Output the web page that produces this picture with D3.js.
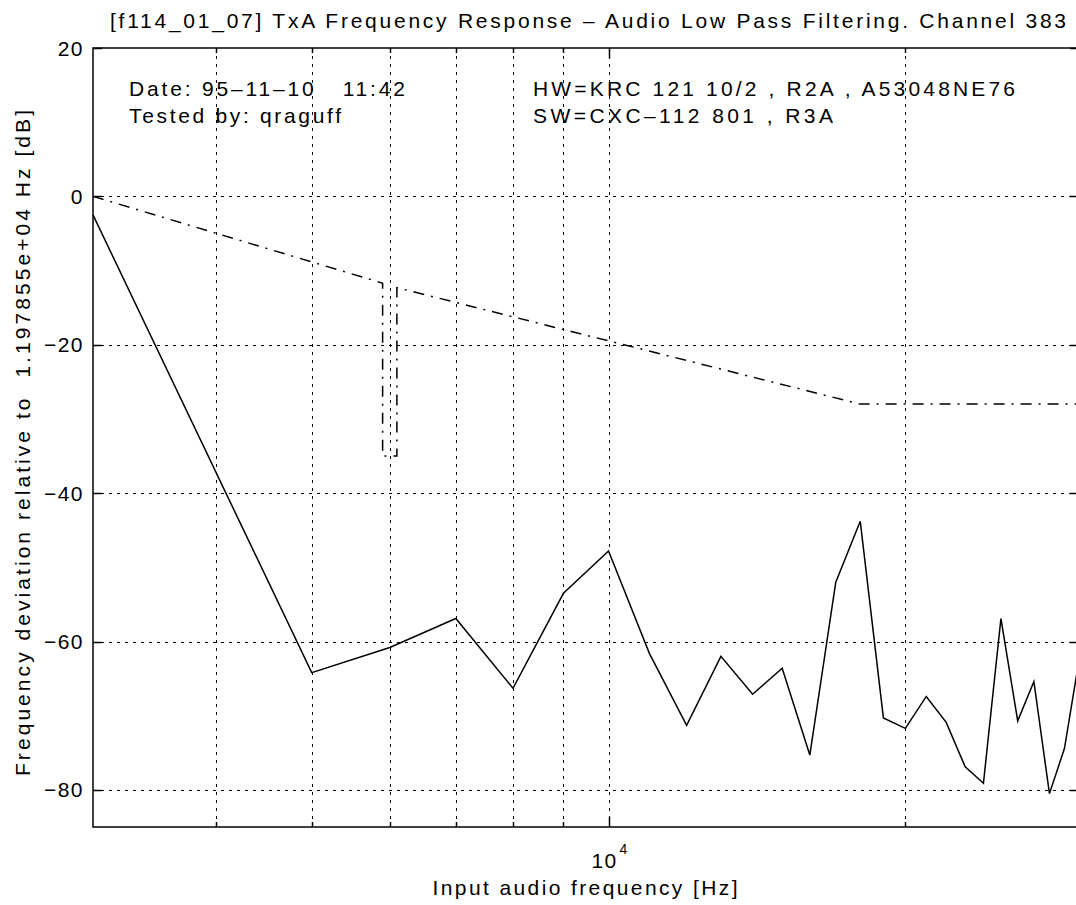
<!DOCTYPE html>
<html>
<head>
<meta charset="utf-8">
<script src="https://cdn.jsdelivr.net/npm/d3@7"></script>
<style>
body { margin: 0; background: #fff; }
text { font-family: "Liberation Sans", Arial, Helvetica, sans-serif; fill: #000; white-space: pre; }
</style>
</head>
<body>
<div id="chart"></div>
<script>
// measured response, solid line
var freqHz = [3000, 5000, 6000, 7000, 8000, 9000, 10000, 11000, 12000, 13000, 14000,
              15000, 16000, 17000, 18000, 19000, 20000, 21000, 22000, 23000, 24000,
              25000, 26000, 27000, 28000, 29000, 30000];
var respDb = [-2.5, -64.2, -60.8, -56.9, -66.3, -53.5, -47.8, -61.6, -71.3, -62.0, -67.1,
              -63.6, -75.3, -52.0, -43.8, -70.3, -71.7, -67.4, -70.9, -76.9, -79.1,
              -56.9, -70.7, -65.4, -80.5, -74.4, -62.5];

// limit mask, dash-dot line
var limitHz = [3000, 5900, 5900, 6100, 6100, 18000, 30000];
var limitDb = [0, -11.7, -35, -35, -12.3, -28, -28];

// axis ticks and grid
var yTickValues = [20, 0, -20, -40, -60, -80];
var xGridHz = [4000, 5000, 6000, 7000, 8000, 9000, 10000, 20000];
var xMajorHz = [10000];

var titleText = "[f114_01_07] TxA Frequency Response \u2013 Audio Low Pass Filtering. Channel 383";
var xLabel = "Input audio frequency [Hz]";
var yLabel = "Frequency deviation relative to  1.197855e+04 Hz [dB]";
var infoLeft = ["Date: 95\u201311\u201310   11:42", "Tested by: qraguff"];
var infoRight = ["HW=KRC 121 10/2 , R2A , A53048NE76", "SW=CXC\u2013112 801 , R3A"];

var W = 1076, H = 905;
var margin = {top: 48, left: 93},
    width = 986,
    height = 779,
    fontSize = "21px";

var svg = d3.select("#chart").append("svg")
    .attr("width", W)
    .attr("height", H)
    .style("background", "#fff");

var x = d3.scaleLog()
    .domain([3000, 30000])
    .range([margin.left, margin.left + width]);

var y = d3.scaleLinear()
    .domain([-85, 20])
    .range([margin.top + height, margin.top]);

var x0 = x.range()[0], x1 = x.range()[1],
    yTop = y.range()[1], yBot = y.range()[0];

// grid lines
var grid = svg.append("g")
    .attr("stroke", "#000")
    .attr("stroke-width", 1)
    .attr("stroke-dasharray", "3,5");

grid.selectAll(".vgrid")
    .data(xGridHz)
    .enter().append("line")
    .attr("x1", function(d) { return Math.round(x(d)) + 0.5; })
    .attr("x2", function(d) { return Math.round(x(d)) + 0.5; })
    .attr("y1", yTop)
    .attr("y2", yBot);

grid.selectAll(".hgrid")
    .data(yTickValues.filter(function(d) { return d < 20; }))
    .enter().append("line")
    .attr("x1", x0)
    .attr("x2", x1)
    .attr("y1", function(d) { return Math.round(y(d)) + 0.5; })
    .attr("y2", function(d) { return Math.round(y(d)) + 0.5; });

// data lines
var line = d3.line()
    .x(function(d) { return x(d[0]); })
    .y(function(d) { return y(d[1]); });

svg.append("path")
    .datum(d3.zip(limitHz, limitDb))
    .attr("fill", "none")
    .attr("stroke", "#000")
    .attr("stroke-width", 1.5)
    .attr("stroke-dasharray", "11,7,2,7")
    .attr("d", line);

svg.append("path")
    .datum(d3.zip(freqHz, respDb))
    .attr("fill", "none")
    .attr("stroke", "#000")
    .attr("stroke-width", 1.5)
    .attr("d", line);

// axes box
var box = svg.append("g")
    .attr("stroke", "#000")
    .attr("stroke-width", 1.5)
    .attr("fill", "none");

box.append("path")
    .attr("d", "M" + x1 + "," + yTop + "H" + x0 + "V" + yBot + "H" + x1 + "V" + yTop);

// y ticks, left and right
yTickValues.forEach(function(d) {
    var yy = Math.round(y(d)) + 0.5;
    box.append("line").attr("x1", x0).attr("x2", x0 + 9).attr("y1", yy).attr("y2", yy);
    box.append("line").attr("x1", x1).attr("x2", x1 - 9).attr("y1", yy).attr("y2", yy);
});

// x ticks, bottom and top
xGridHz.forEach(function(d) {
    var xx = Math.round(x(d)) + 0.5;
    var len = xMajorHz.indexOf(d) >= 0 ? 10 : 5;
    box.append("line").attr("x1", xx).attr("x2", xx).attr("y1", yBot).attr("y2", yBot - len);
    box.append("line").attr("x1", xx).attr("x2", xx).attr("y1", yTop).attr("y2", yTop + len);
});

// tick labels
svg.selectAll(".ylab")
    .data(yTickValues)
    .enter().append("text")
    .attr("x", 84)
    .attr("y", function(d) { return y(d) + 7.5; })
    .attr("text-anchor", "end")
    .style("font-size", fontSize)
    .style("letter-spacing", "1.5px")
    .text(function(d) { return d < 0 ? "\u2212" + (-d) : d; });

xMajorHz.forEach(function(d) {
    svg.append("text")
        .attr("x", x(d) - 4)
        .attr("y", 868)
        .attr("text-anchor", "middle")
        .style("font-size", fontSize)
        .style("letter-spacing", "1.5px")
        .text("10");
    svg.append("text")
        .attr("x", x(d) + 11)
        .attr("y", 854)
        .style("font-size", "14px")
        .text(Math.round(Math.log10(d)));
});

// title and axis labels
svg.append("text")
    .attr("x", 588)
    .attr("y", 28)
    .attr("text-anchor", "middle")
    .attr("textLength", 956)
    .attr("lengthAdjust", "spacing")
    .style("font-size", fontSize)
    .text(titleText);

svg.append("text")
    .attr("x", 585)
    .attr("y", 895)
    .attr("text-anchor", "middle")
    .attr("textLength", 305)
    .attr("lengthAdjust", "spacing")
    .style("font-size", fontSize)
    .text(xLabel);

svg.append("text")
    .attr("transform", "translate(30," + 443 + ") rotate(-90)")
    .attr("text-anchor", "middle")
    .attr("textLength", 666)
    .attr("lengthAdjust", "spacing")
    .style("font-size", fontSize)
    .text(yLabel);

// info text inside the axes
var leftLens = [276, 212], rightLens = [482, 300];
infoLeft.forEach(function(s, i) {
    svg.append("text")
        .attr("x", 129)
        .attr("y", 96 + i * 27)
        .attr("textLength", leftLens[i])
        .attr("lengthAdjust", "spacing")
        .style("font-size", fontSize)
        .text(s);
});
infoRight.forEach(function(s, i) {
    svg.append("text")
        .attr("x", 533)
        .attr("y", 96 + i * 27)
        .attr("textLength", rightLens[i])
        .attr("lengthAdjust", "spacing")
        .style("font-size", fontSize)
        .text(s);
});
</script>
</body>
</html>
